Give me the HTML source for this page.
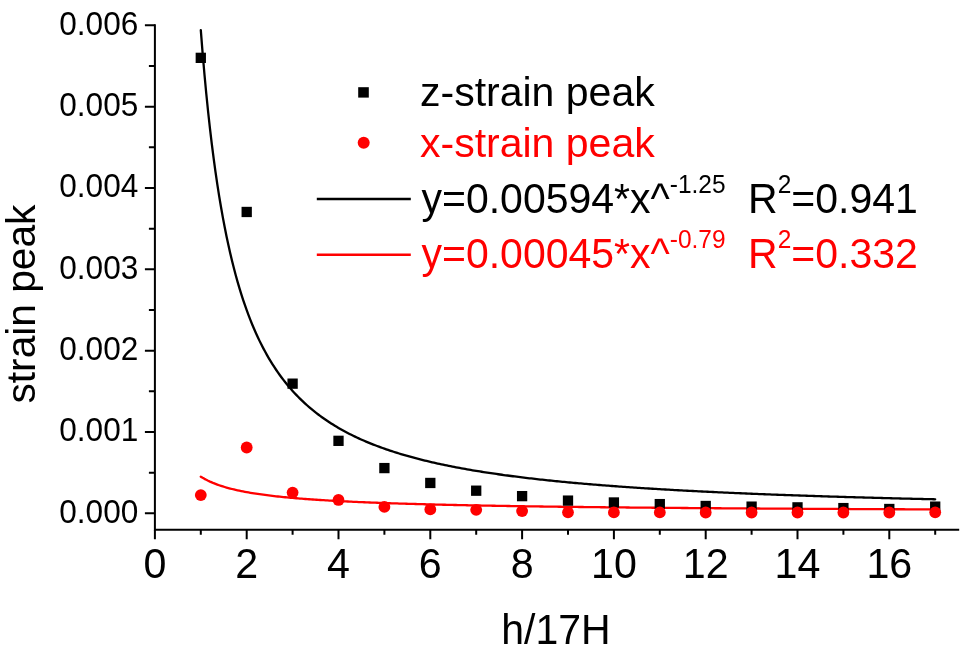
<!DOCTYPE html>
<html><head><meta charset="utf-8"><style>
html,body{margin:0;padding:0;background:#fff;}
svg{display:block;will-change:transform;}
</style></head><body>
<svg width="967" height="646" viewBox="0 0 967 646">
<rect width="967" height="646" fill="#fff"/>
<path d="M154.9,25.3 V529.8 H958.2" fill="none" stroke="#000" stroke-width="2" stroke-linecap="square"/>
<path d="M144.9,513.30 H154.9 M144.9,431.97 H154.9 M144.9,350.64 H154.9 M144.9,269.31 H154.9 M144.9,187.98 H154.9 M144.9,106.65 H154.9 M144.9,25.32 H154.9 M148.9,472.63 H154.9 M148.9,391.30 H154.9 M148.9,309.97 H154.9 M148.9,228.64 H154.9 M148.9,147.31 H154.9 M148.9,65.98 H154.9 M154.90,529.8 V539.3 M246.70,529.8 V539.3 M338.50,529.8 V539.3 M430.30,529.8 V539.3 M522.10,529.8 V539.3 M613.90,529.8 V539.3 M705.70,529.8 V539.3 M797.50,529.8 V539.3 M889.30,529.8 V539.3 M200.80,529.8 V534.8 M292.60,529.8 V534.8 M384.40,529.8 V534.8 M476.20,529.8 V534.8 M568.00,529.8 V534.8 M659.80,529.8 V534.8 M751.60,529.8 V534.8 M843.40,529.8 V534.8 M935.20,529.8 V534.8" fill="none" stroke="#000" stroke-width="2"/>
<text transform="translate(138.30,522.60) scale(1,1.03)" font-family="'Liberation Sans', sans-serif" font-size="31.6" text-anchor="end">0.000</text>
<text transform="translate(138.30,441.27) scale(1,1.03)" font-family="'Liberation Sans', sans-serif" font-size="31.6" text-anchor="end">0.001</text>
<text transform="translate(138.30,359.94) scale(1,1.03)" font-family="'Liberation Sans', sans-serif" font-size="31.6" text-anchor="end">0.002</text>
<text transform="translate(138.30,278.61) scale(1,1.03)" font-family="'Liberation Sans', sans-serif" font-size="31.6" text-anchor="end">0.003</text>
<text transform="translate(138.30,197.28) scale(1,1.03)" font-family="'Liberation Sans', sans-serif" font-size="31.6" text-anchor="end">0.004</text>
<text transform="translate(138.30,115.95) scale(1,1.03)" font-family="'Liberation Sans', sans-serif" font-size="31.6" text-anchor="end">0.005</text>
<text transform="translate(138.30,34.62) scale(1,1.03)" font-family="'Liberation Sans', sans-serif" font-size="31.6" text-anchor="end">0.006</text>
<text transform="translate(154.90,577.80) scale(1,1.04)" font-family="'Liberation Sans', sans-serif" font-size="41.2" text-anchor="middle">0</text>
<text transform="translate(246.70,577.80) scale(1,1.04)" font-family="'Liberation Sans', sans-serif" font-size="41.2" text-anchor="middle">2</text>
<text transform="translate(338.50,577.80) scale(1,1.04)" font-family="'Liberation Sans', sans-serif" font-size="41.2" text-anchor="middle">4</text>
<text transform="translate(430.30,577.80) scale(1,1.04)" font-family="'Liberation Sans', sans-serif" font-size="41.2" text-anchor="middle">6</text>
<text transform="translate(522.10,577.80) scale(1,1.04)" font-family="'Liberation Sans', sans-serif" font-size="41.2" text-anchor="middle">8</text>
<text transform="translate(613.90,577.80) scale(1,1.04)" font-family="'Liberation Sans', sans-serif" font-size="41.2" text-anchor="middle">10</text>
<text transform="translate(705.70,577.80) scale(1,1.04)" font-family="'Liberation Sans', sans-serif" font-size="41.2" text-anchor="middle">12</text>
<text transform="translate(797.50,577.80) scale(1,1.04)" font-family="'Liberation Sans', sans-serif" font-size="41.2" text-anchor="middle">14</text>
<text transform="translate(889.30,577.80) scale(1,1.04)" font-family="'Liberation Sans', sans-serif" font-size="41.2" text-anchor="middle">16</text>
<text transform="translate(556.00,643.50) scale(1,1.03)" font-family="'Liberation Sans', sans-serif" font-size="41" text-anchor="middle">h/17H</text>
<text transform="translate(34.60,304.05) rotate(-90) scale(1,0.985)" font-family="'Liberation Sans', sans-serif" font-size="40.7" text-anchor="middle">strain peak</text>
<path d="M200.80,30.20 L202.64,53.31 L204.47,74.51 L206.31,94.01 L208.14,112.00 L209.98,128.65 L211.82,144.10 L213.65,158.47 L215.49,171.86 L217.32,184.36 L219.16,196.07 L221.00,207.04 L222.83,217.36 L224.67,227.06 L226.50,236.20 L228.34,244.84 L230.18,253.00 L232.01,260.72 L233.85,268.04 L235.68,274.99 L237.52,281.59 L239.36,287.87 L241.19,293.85 L243.03,299.55 L244.86,304.99 L246.70,310.18 L248.54,315.15 L250.37,319.90 L252.21,324.45 L254.04,328.81 L255.88,332.99 L257.72,337.01 L259.55,340.87 L261.39,344.58 L263.22,348.14 L265.06,351.58 L266.90,354.88 L268.73,358.07 L270.57,361.14 L272.40,364.11 L274.24,366.97 L276.08,369.74 L277.91,372.41 L279.75,375.00 L281.58,377.50 L283.42,379.92 L285.26,382.26 L287.09,384.54 L288.93,386.74 L290.76,388.87 L292.60,390.94 L294.44,392.95 L296.27,394.90 L298.11,396.80 L299.94,398.64 L301.78,400.42 L303.62,402.16 L305.45,403.86 L307.29,405.50 L309.12,407.10 L310.96,408.66 L312.80,410.18 L314.63,411.66 L316.47,413.10 L318.30,414.51 L320.14,415.88 L321.98,417.21 L323.81,418.52 L325.65,419.79 L327.48,421.03 L329.32,422.24 L331.16,423.43 L332.99,424.58 L334.83,425.72 L336.66,426.82 L338.50,427.90 L340.34,428.95 L342.17,429.99 L344.01,431.00 L345.84,431.99 L347.68,432.95 L349.52,433.90 L351.35,434.82 L353.19,435.73 L355.02,436.62 L356.86,437.49 L358.70,438.34 L360.53,439.18 L362.37,440.00 L364.20,440.80 L366.04,441.59 L367.88,442.36 L369.71,443.12 L371.55,443.86 L373.38,444.59 L375.22,445.30 L377.06,446.01 L378.89,446.69 L380.73,447.37 L382.56,448.03 L384.40,448.69 L386.24,449.33 L388.07,449.96 L389.91,450.57 L391.74,451.18 L393.58,451.78 L395.42,452.36 L397.25,452.94 L399.09,453.51 L400.92,454.06 L402.76,454.61 L404.60,455.15 L406.43,455.68 L408.27,456.20 L410.10,456.72 L411.94,457.22 L413.78,457.72 L415.61,458.21 L417.45,458.69 L419.28,459.16 L421.12,459.63 L422.96,460.09 L424.79,460.54 L426.63,460.98 L428.46,461.42 L430.30,461.85 L432.14,462.28 L433.97,462.70 L435.81,463.11 L437.64,463.52 L439.48,463.92 L441.32,464.32 L443.15,464.71 L444.99,465.09 L446.82,465.47 L448.66,465.84 L450.50,466.21 L452.33,466.57 L454.17,466.93 L456.00,467.28 L457.84,467.63 L459.68,467.98 L461.51,468.32 L463.35,468.65 L465.18,468.98 L467.02,469.31 L468.86,469.63 L470.69,469.94 L472.53,470.26 L474.36,470.57 L476.20,470.87 L478.04,471.17 L479.87,471.47 L481.71,471.76 L483.54,472.05 L485.38,472.34 L487.22,472.62 L489.05,472.90 L490.89,473.18 L492.72,473.45 L494.56,473.72 L496.40,473.98 L498.23,474.25 L500.07,474.51 L501.90,474.76 L503.74,475.02 L505.58,475.27 L507.41,475.51 L509.25,475.76 L511.08,476.00 L512.92,476.24 L514.76,476.48 L516.59,476.71 L518.43,476.94 L520.26,477.17 L522.10,477.39 L523.94,477.62 L525.77,477.84 L527.61,478.06 L529.44,478.27 L531.28,478.48 L533.12,478.70 L534.95,478.90 L536.79,479.11 L538.62,479.32 L540.46,479.52 L542.30,479.72 L544.13,479.92 L545.97,480.11 L547.80,480.31 L549.64,480.50 L551.48,480.69 L553.31,480.87 L555.15,481.06 L556.98,481.24 L558.82,481.43 L560.66,481.61 L562.49,481.78 L564.33,481.96 L566.16,482.14 L568.00,482.31 L569.84,482.48 L571.67,482.65 L573.51,482.82 L575.34,482.98 L577.18,483.15 L579.02,483.31 L580.85,483.47 L582.69,483.63 L584.52,483.79 L586.36,483.95 L588.20,484.10 L590.03,484.26 L591.87,484.41 L593.70,484.56 L595.54,484.71 L597.38,484.86 L599.21,485.01 L601.05,485.15 L602.88,485.30 L604.72,485.44 L606.56,485.58 L608.39,485.72 L610.23,485.86 L612.06,486.00 L613.90,486.13 L615.74,486.27 L617.57,486.40 L619.41,486.54 L621.24,486.67 L623.08,486.80 L624.92,486.93 L626.75,487.06 L628.59,487.18 L630.42,487.31 L632.26,487.43 L634.10,487.56 L635.93,487.68 L637.77,487.80 L639.60,487.92 L641.44,488.04 L643.28,488.16 L645.11,488.28 L646.95,488.39 L648.78,488.51 L650.62,488.62 L652.46,488.74 L654.29,488.85 L656.13,488.96 L657.96,489.07 L659.80,489.18 L661.64,489.29 L663.47,489.40 L665.31,489.51 L667.14,489.62 L668.98,489.72 L670.82,489.83 L672.65,489.93 L674.49,490.03 L676.32,490.14 L678.16,490.24 L680.00,490.34 L681.83,490.44 L683.67,490.54 L685.50,490.64 L687.34,490.73 L689.18,490.83 L691.01,490.93 L692.85,491.02 L694.68,491.12 L696.52,491.21 L698.36,491.30 L700.19,491.40 L702.03,491.49 L703.86,491.58 L705.70,491.67 L707.54,491.76 L709.37,491.85 L711.21,491.94 L713.04,492.02 L714.88,492.11 L716.72,492.20 L718.55,492.28 L720.39,492.37 L722.22,492.45 L724.06,492.54 L725.90,492.62 L727.73,492.70 L729.57,492.79 L731.40,492.87 L733.24,492.95 L735.08,493.03 L736.91,493.11 L738.75,493.19 L740.58,493.27 L742.42,493.35 L744.26,493.42 L746.09,493.50 L747.93,493.58 L749.76,493.65 L751.60,493.73 L753.44,493.80 L755.27,493.88 L757.11,493.95 L758.94,494.03 L760.78,494.10 L762.62,494.17 L764.45,494.24 L766.29,494.32 L768.12,494.39 L769.96,494.46 L771.80,494.53 L773.63,494.60 L775.47,494.67 L777.30,494.73 L779.14,494.80 L780.98,494.87 L782.81,494.94 L784.65,495.00 L786.48,495.07 L788.32,495.14 L790.16,495.20 L791.99,495.27 L793.83,495.33 L795.66,495.40 L797.50,495.46 L799.34,495.52 L801.17,495.59 L803.01,495.65 L804.84,495.71 L806.68,495.77 L808.52,495.84 L810.35,495.90 L812.19,495.96 L814.02,496.02 L815.86,496.08 L817.70,496.14 L819.53,496.20 L821.37,496.26 L823.20,496.31 L825.04,496.37 L826.88,496.43 L828.71,496.49 L830.55,496.54 L832.38,496.60 L834.22,496.66 L836.06,496.71 L837.89,496.77 L839.73,496.82 L841.56,496.88 L843.40,496.93 L845.24,496.99 L847.07,497.04 L848.91,497.10 L850.74,497.15 L852.58,497.20 L854.42,497.26 L856.25,497.31 L858.09,497.36 L859.92,497.41 L861.76,497.46 L863.60,497.52 L865.43,497.57 L867.27,497.62 L869.10,497.67 L870.94,497.72 L872.78,497.77 L874.61,497.82 L876.45,497.87 L878.28,497.92 L880.12,497.96 L881.96,498.01 L883.79,498.06 L885.63,498.11 L887.46,498.16 L889.30,498.20 L891.14,498.25 L892.97,498.30 L894.81,498.34 L896.64,498.39 L898.48,498.44 L900.32,498.48 L902.15,498.53 L903.99,498.57 L905.82,498.62 L907.66,498.66 L909.50,498.71 L911.33,498.75 L913.17,498.79 L915.00,498.84 L916.84,498.88 L918.68,498.93 L920.51,498.97 L922.35,499.01 L924.18,499.05 L926.02,499.10 L927.86,499.14 L929.69,499.18 L931.53,499.22 L933.36,499.26 L935.20,499.30" fill="none" stroke="#000" stroke-width="2.3" stroke-linecap="round" stroke-linejoin="round"/>
<path d="M200.80,476.70 L202.64,477.82 L204.47,478.86 L206.31,479.84 L208.14,480.75 L209.98,481.61 L211.82,482.42 L213.65,483.19 L215.49,483.91 L217.32,484.59 L219.16,485.24 L221.00,485.86 L222.83,486.45 L224.67,487.01 L226.50,487.54 L228.34,488.05 L230.18,488.54 L232.01,489.01 L233.85,489.46 L235.68,489.88 L237.52,490.30 L239.36,490.69 L241.19,491.07 L243.03,491.44 L244.86,491.79 L246.70,492.13 L248.54,492.46 L250.37,492.78 L252.21,493.09 L254.04,493.38 L255.88,493.67 L257.72,493.95 L259.55,494.21 L261.39,494.48 L263.22,494.73 L265.06,494.97 L266.90,495.21 L268.73,495.44 L270.57,495.67 L272.40,495.88 L274.24,496.10 L276.08,496.30 L277.91,496.50 L279.75,496.70 L281.58,496.89 L283.42,497.07 L285.26,497.25 L287.09,497.43 L288.93,497.60 L290.76,497.77 L292.60,497.93 L294.44,498.09 L296.27,498.25 L298.11,498.40 L299.94,498.55 L301.78,498.70 L303.62,498.84 L305.45,498.98 L307.29,499.12 L309.12,499.25 L310.96,499.38 L312.80,499.51 L314.63,499.63 L316.47,499.76 L318.30,499.88 L320.14,500.00 L321.98,500.11 L323.81,500.22 L325.65,500.34 L327.48,500.45 L329.32,500.55 L331.16,500.66 L332.99,500.76 L334.83,500.86 L336.66,500.96 L338.50,501.06 L340.34,501.15 L342.17,501.25 L344.01,501.34 L345.84,501.43 L347.68,501.52 L349.52,501.61 L351.35,501.70 L353.19,501.78 L355.02,501.86 L356.86,501.95 L358.70,502.03 L360.53,502.11 L362.37,502.19 L364.20,502.26 L366.04,502.34 L367.88,502.41 L369.71,502.49 L371.55,502.56 L373.38,502.63 L375.22,502.70 L377.06,502.77 L378.89,502.84 L380.73,502.91 L382.56,502.97 L384.40,503.04 L386.24,503.10 L388.07,503.16 L389.91,503.23 L391.74,503.29 L393.58,503.35 L395.42,503.41 L397.25,503.47 L399.09,503.53 L400.92,503.59 L402.76,503.64 L404.60,503.70 L406.43,503.75 L408.27,503.81 L410.10,503.86 L411.94,503.92 L413.78,503.97 L415.61,504.02 L417.45,504.07 L419.28,504.12 L421.12,504.17 L422.96,504.22 L424.79,504.27 L426.63,504.32 L428.46,504.37 L430.30,504.41 L432.14,504.46 L433.97,504.51 L435.81,504.55 L437.64,504.60 L439.48,504.64 L441.32,504.68 L443.15,504.73 L444.99,504.77 L446.82,504.81 L448.66,504.86 L450.50,504.90 L452.33,504.94 L454.17,504.98 L456.00,505.02 L457.84,505.06 L459.68,505.10 L461.51,505.14 L463.35,505.17 L465.18,505.21 L467.02,505.25 L468.86,505.29 L470.69,505.32 L472.53,505.36 L474.36,505.40 L476.20,505.43 L478.04,505.47 L479.87,505.50 L481.71,505.54 L483.54,505.57 L485.38,505.61 L487.22,505.64 L489.05,505.67 L490.89,505.71 L492.72,505.74 L494.56,505.77 L496.40,505.80 L498.23,505.83 L500.07,505.87 L501.90,505.90 L503.74,505.93 L505.58,505.96 L507.41,505.99 L509.25,506.02 L511.08,506.05 L512.92,506.08 L514.76,506.11 L516.59,506.14 L518.43,506.16 L520.26,506.19 L522.10,506.22 L523.94,506.25 L525.77,506.28 L527.61,506.30 L529.44,506.33 L531.28,506.36 L533.12,506.38 L534.95,506.41 L536.79,506.44 L538.62,506.46 L540.46,506.49 L542.30,506.51 L544.13,506.54 L545.97,506.56 L547.80,506.59 L549.64,506.61 L551.48,506.64 L553.31,506.66 L555.15,506.69 L556.98,506.71 L558.82,506.73 L560.66,506.76 L562.49,506.78 L564.33,506.80 L566.16,506.83 L568.00,506.85 L569.84,506.87 L571.67,506.89 L573.51,506.92 L575.34,506.94 L577.18,506.96 L579.02,506.98 L580.85,507.00 L582.69,507.02 L584.52,507.05 L586.36,507.07 L588.20,507.09 L590.03,507.11 L591.87,507.13 L593.70,507.15 L595.54,507.17 L597.38,507.19 L599.21,507.21 L601.05,507.23 L602.88,507.25 L604.72,507.27 L606.56,507.29 L608.39,507.31 L610.23,507.33 L612.06,507.35 L613.90,507.36 L615.74,507.38 L617.57,507.40 L619.41,507.42 L621.24,507.44 L623.08,507.46 L624.92,507.47 L626.75,507.49 L628.59,507.51 L630.42,507.53 L632.26,507.55 L634.10,507.56 L635.93,507.58 L637.77,507.60 L639.60,507.61 L641.44,507.63 L643.28,507.65 L645.11,507.67 L646.95,507.68 L648.78,507.70 L650.62,507.71 L652.46,507.73 L654.29,507.75 L656.13,507.76 L657.96,507.78 L659.80,507.79 L661.64,507.81 L663.47,507.83 L665.31,507.84 L667.14,507.86 L668.98,507.87 L670.82,507.89 L672.65,507.90 L674.49,507.92 L676.32,507.93 L678.16,507.95 L680.00,507.96 L681.83,507.98 L683.67,507.99 L685.50,508.01 L687.34,508.02 L689.18,508.04 L691.01,508.05 L692.85,508.06 L694.68,508.08 L696.52,508.09 L698.36,508.11 L700.19,508.12 L702.03,508.13 L703.86,508.15 L705.70,508.16 L707.54,508.17 L709.37,508.19 L711.21,508.20 L713.04,508.21 L714.88,508.23 L716.72,508.24 L718.55,508.25 L720.39,508.27 L722.22,508.28 L724.06,508.29 L725.90,508.30 L727.73,508.32 L729.57,508.33 L731.40,508.34 L733.24,508.35 L735.08,508.37 L736.91,508.38 L738.75,508.39 L740.58,508.40 L742.42,508.42 L744.26,508.43 L746.09,508.44 L747.93,508.45 L749.76,508.46 L751.60,508.48 L753.44,508.49 L755.27,508.50 L757.11,508.51 L758.94,508.52 L760.78,508.53 L762.62,508.54 L764.45,508.56 L766.29,508.57 L768.12,508.58 L769.96,508.59 L771.80,508.60 L773.63,508.61 L775.47,508.62 L777.30,508.63 L779.14,508.64 L780.98,508.66 L782.81,508.67 L784.65,508.68 L786.48,508.69 L788.32,508.70 L790.16,508.71 L791.99,508.72 L793.83,508.73 L795.66,508.74 L797.50,508.75 L799.34,508.76 L801.17,508.77 L803.01,508.78 L804.84,508.79 L806.68,508.80 L808.52,508.81 L810.35,508.82 L812.19,508.83 L814.02,508.84 L815.86,508.85 L817.70,508.86 L819.53,508.87 L821.37,508.88 L823.20,508.89 L825.04,508.90 L826.88,508.91 L828.71,508.92 L830.55,508.93 L832.38,508.94 L834.22,508.95 L836.06,508.95 L837.89,508.96 L839.73,508.97 L841.56,508.98 L843.40,508.99 L845.24,509.00 L847.07,509.01 L848.91,509.02 L850.74,509.03 L852.58,509.04 L854.42,509.04 L856.25,509.05 L858.09,509.06 L859.92,509.07 L861.76,509.08 L863.60,509.09 L865.43,509.10 L867.27,509.11 L869.10,509.11 L870.94,509.12 L872.78,509.13 L874.61,509.14 L876.45,509.15 L878.28,509.16 L880.12,509.16 L881.96,509.17 L883.79,509.18 L885.63,509.19 L887.46,509.20 L889.30,509.21 L891.14,509.21 L892.97,509.22 L894.81,509.23 L896.64,509.24 L898.48,509.25 L900.32,509.25 L902.15,509.26 L903.99,509.27 L905.82,509.28 L907.66,509.28 L909.50,509.29 L911.33,509.30 L913.17,509.31 L915.00,509.32 L916.84,509.32 L918.68,509.33 L920.51,509.34 L922.35,509.35 L924.18,509.35 L926.02,509.36 L927.86,509.37 L929.69,509.38 L931.53,509.38 L933.36,509.39 L935.20,509.40" fill="none" stroke="#f00" stroke-width="2.3" stroke-linecap="round" stroke-linejoin="round"/>
<rect x="195.65" y="52.70" width="10.3" height="10.3" fill="#000"/>
<rect x="241.55" y="206.82" width="10.3" height="10.3" fill="#000"/>
<rect x="287.45" y="378.51" width="10.3" height="10.3" fill="#000"/>
<rect x="333.35" y="435.68" width="10.3" height="10.3" fill="#000"/>
<rect x="379.25" y="462.93" width="10.3" height="10.3" fill="#000"/>
<rect x="425.15" y="477.81" width="10.3" height="10.3" fill="#000"/>
<rect x="471.05" y="485.54" width="10.3" height="10.3" fill="#000"/>
<rect x="516.95" y="490.99" width="10.3" height="10.3" fill="#000"/>
<rect x="562.85" y="495.46" width="10.3" height="10.3" fill="#000"/>
<rect x="608.75" y="497.33" width="10.3" height="10.3" fill="#000"/>
<rect x="654.65" y="498.96" width="10.3" height="10.3" fill="#000"/>
<rect x="700.55" y="500.83" width="10.3" height="10.3" fill="#000"/>
<rect x="746.45" y="501.48" width="10.3" height="10.3" fill="#000"/>
<rect x="792.35" y="502.21" width="10.3" height="10.3" fill="#000"/>
<rect x="838.25" y="502.94" width="10.3" height="10.3" fill="#000"/>
<rect x="884.15" y="503.84" width="10.3" height="10.3" fill="#000"/>
<rect x="930.05" y="501.48" width="10.3" height="10.3" fill="#000"/>
<circle cx="200.80" cy="495.08" r="5.9" fill="#f00"/>
<circle cx="246.70" cy="447.50" r="5.9" fill="#f00"/>
<circle cx="292.60" cy="492.56" r="5.9" fill="#f00"/>
<circle cx="338.50" cy="499.96" r="5.9" fill="#f00"/>
<circle cx="384.40" cy="506.87" r="5.9" fill="#f00"/>
<circle cx="430.30" cy="509.40" r="5.9" fill="#f00"/>
<circle cx="476.20" cy="509.80" r="5.9" fill="#f00"/>
<circle cx="522.10" cy="511.10" r="5.9" fill="#f00"/>
<circle cx="568.00" cy="512.32" r="5.9" fill="#f00"/>
<circle cx="613.90" cy="512.41" r="5.9" fill="#f00"/>
<circle cx="659.80" cy="512.41" r="5.9" fill="#f00"/>
<circle cx="705.70" cy="512.49" r="5.9" fill="#f00"/>
<circle cx="751.60" cy="512.49" r="5.9" fill="#f00"/>
<circle cx="797.50" cy="512.49" r="5.9" fill="#f00"/>
<circle cx="843.40" cy="512.49" r="5.9" fill="#f00"/>
<circle cx="889.30" cy="512.49" r="5.9" fill="#f00"/>
<circle cx="935.20" cy="512.32" r="5.9" fill="#f00"/>
<rect x="358.2" y="87.2" width="10.6" height="10.4" fill="#000"/>
<circle cx="363.7" cy="142.7" r="6" fill="#f00"/>
<text transform="translate(420.00,105.90) scale(1,1.0)" font-family="'Liberation Sans', sans-serif" font-size="41">z-strain peak</text>
<text transform="translate(420.00,156.90) scale(1,1.0)" font-family="'Liberation Sans', sans-serif" font-size="41" fill="#f00">x-strain peak</text>
<path d="M316.8,199 H410.8" stroke="#000" stroke-width="2.5"/>
<path d="M316.8,254.7 H410.8" stroke="#f00" stroke-width="2.5"/>
<text transform="translate(421.50,212.80) scale(1,1.03)" font-family="'Liberation Sans', sans-serif" font-size="41">y=0.00594*x^<tspan font-size="24.5" dy="-19.5">-1.25</tspan></text>
<text transform="translate(748.10,212.80) scale(1,1.03)" font-family="'Liberation Sans', sans-serif" font-size="41">R<tspan font-size="24.5" dy="-19.5">2</tspan><tspan dy="19.5">=0.941</tspan></text>
<text transform="translate(421.50,268.30) scale(1,1.03)" font-family="'Liberation Sans', sans-serif" font-size="41" fill="#f00">y=0.00045*x^<tspan font-size="24.5" dy="-19.5">-0.79</tspan></text>
<text transform="translate(748.10,268.30) scale(1,1.03)" font-family="'Liberation Sans', sans-serif" font-size="41" fill="#f00">R<tspan font-size="24.5" dy="-19.5">2</tspan><tspan dy="19.5">=0.332</tspan></text>
</svg>
</body></html>
